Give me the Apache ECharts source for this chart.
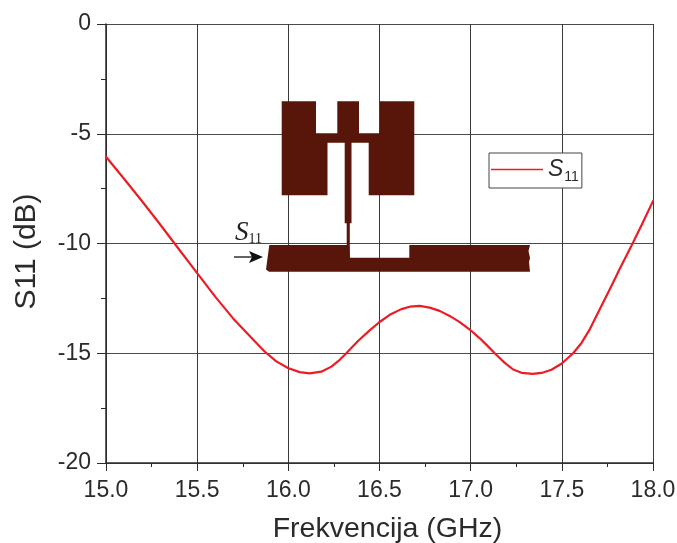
<!DOCTYPE html>
<html><head><meta charset="utf-8">
<style>html,body{margin:0;padding:0;background:#fff}#c{width:677px;height:543px}</style>
<script src="https://cdn.jsdelivr.net/npm/echarts@6/dist/echarts.min.js"></script>
</head><body><div id="c"></div>
<script>
const freq = [15.0,15.10,15.20,15.294,15.376,15.498,15.60,15.696,15.80,15.87,15.934,15.998,16.062,16.117,16.181,16.236,16.282,16.318,16.382,16.446,16.497,16.556,16.62,16.666,16.72,16.775,16.83,16.885,16.94,16.995,17.05,17.087,17.132,17.187,17.233,17.279,17.342,17.397,17.443,17.498,17.562,17.608,17.654,17.708,17.763,17.818,17.888,17.937,18.0];
const s11 = [-6.05,-7.06,-8.1,-9.1,-10.0,-11.33,-12.43,-13.4,-14.32,-14.92,-15.37,-15.67,-15.86,-15.92,-15.84,-15.61,-15.3,-15.0,-14.44,-13.96,-13.6,-13.25,-12.99,-12.88,-12.84,-12.92,-13.07,-13.3,-13.58,-13.92,-14.32,-14.62,-15.0,-15.44,-15.74,-15.89,-15.94,-15.88,-15.75,-15.48,-15.0,-14.53,-13.9,-13.0,-12.08,-11.15,-10.0,-9.17,-8.07];
const seriesName = 'S11';
const xTitle = 'Frekvencija (GHz)';
const yTitle = 'S11 (dB)';

const chart = echarts.init(document.getElementById('c'), null, {renderer:'canvas'});
const font = '"Liberation Sans", Arial, sans-serif';
const ink = '#2b2b2b';
const brown = '#58160a';
chart.setOption({
  animation:false,
  backgroundColor:'#fff',
  grid:{left:106,top:24,width:547,height:439,containLabel:false,outerBoundsMode:'none'},
  xAxis:{type:'value',min:15,max:18,interval:0.5,
    name:xTitle,nameLocation:'middle',nameGap:52,
    nameTextStyle:{fontFamily:font,fontSize:28.5,color:ink,padding:[0,0,0,16]},
    axisLine:{onZero:false,lineStyle:{color:ink,width:1.5}},
    axisTick:{length:8,lineStyle:{color:ink,width:1}},
    minorTick:{show:true,splitNumber:2,length:4,lineStyle:{color:ink,width:1}},
    splitLine:{show:true,lineStyle:{color:'#3a3a3a',width:1}},
    axisLabel:{fontFamily:font,fontSize:23,color:ink,margin:16,formatter:v=>v.toFixed(1),showMinLabel:true,showMaxLabel:true}},
  yAxis:{type:'value',min:-20,max:0,interval:5,
    name:yTitle,nameLocation:'middle',nameGap:64,
    nameTextStyle:{fontFamily:font,fontSize:30,color:ink,padding:[0,16,0,0]},
    axisLine:{onZero:false,lineStyle:{color:ink,width:1.5}},
    axisTick:{length:9,lineStyle:{color:ink,width:1}},
    minorTick:{show:true,splitNumber:2,length:5,lineStyle:{color:ink,width:1}},
    splitLine:{show:true,lineStyle:{color:'#4a4a4a',width:1}},
    axisLabel:{fontFamily:font,fontSize:23,color:ink,margin:15}},
  legend:{show:true,left:489,top:153,orient:'horizontal',
    padding:[5,3,4,2],itemWidth:52,itemHeight:14,itemGap:0,
    backgroundColor:'#fff',borderColor:'#444',borderWidth:1,
    data:[{name:seriesName,icon:'path://M0,6.5H52V8H0Z'}],
    formatter:()=>'{s|S}{n|11}',
    textStyle:{fontFamily:font,rich:{s:{fontFamily:font,fontStyle:'italic',fontSize:23,color:ink},n:{fontFamily:font,fontSize:14,color:ink,verticalAlign:'bottom',padding:[15,0,0,1]}}}},
  series:[{name:seriesName,type:'line',data:freq.map((f,i)=>[f,s11[i]]),smooth:false,showSymbol:false,clip:true,z:3,
    lineStyle:{color:'#ed1c24',width:2.2,join:'round',cap:'round'},itemStyle:{color:'#ed1c24'}}],
  graphic:[
    {type:'polygon',z:10,silent:true,shape:{points:[[281.7,101.3],[316,101.3],[316,133.3],[337.3,133.3],[337.3,101.3],[359,101.3],[359,133.3],[380,133.3],[380,101.3],[414.3,101.3],[414.3,195.3],[368.7,195.3],[368.7,142.7],[351.5,142.7],[351.5,223.3],[349.8,223.3],[349.8,245],[350,257.7],[409.3,257.7],[409.3,245],[530,245],[528.5,251],[530,258],[529,262],[530,271.7],[269,271.7],[266,269.5],[269.3,245],[346.7,245],[346.7,223.3],[344.7,223.3],[344.7,142.7],[327.5,142.7],[327.5,195.3],[281.7,195.3]]},style:{fill:brown,stroke:'none'}},
    {type:'text',z:10,left:235,top:219,silent:true,style:{text:'{s|S}{n|11}',rich:{s:{fontFamily:'"Liberation Serif",serif',fontStyle:'italic',fontSize:27,fill:'#222'},n:{fontFamily:'"Liberation Serif",serif',fontSize:14,fill:'#222',verticalAlign:'bottom',padding:[8,0,0,0]}}}},
    {type:'line',z:10,silent:true,shape:{x1:234,y1:257,x2:255,y2:257},style:{stroke:'#111',lineWidth:1.3}},
    {type:'polygon',z:10,silent:true,shape:{points:[[263,257],[249,251],[252,257],[249,263]]},style:{fill:'#111'}}
  ]
});
</script></body></html>
